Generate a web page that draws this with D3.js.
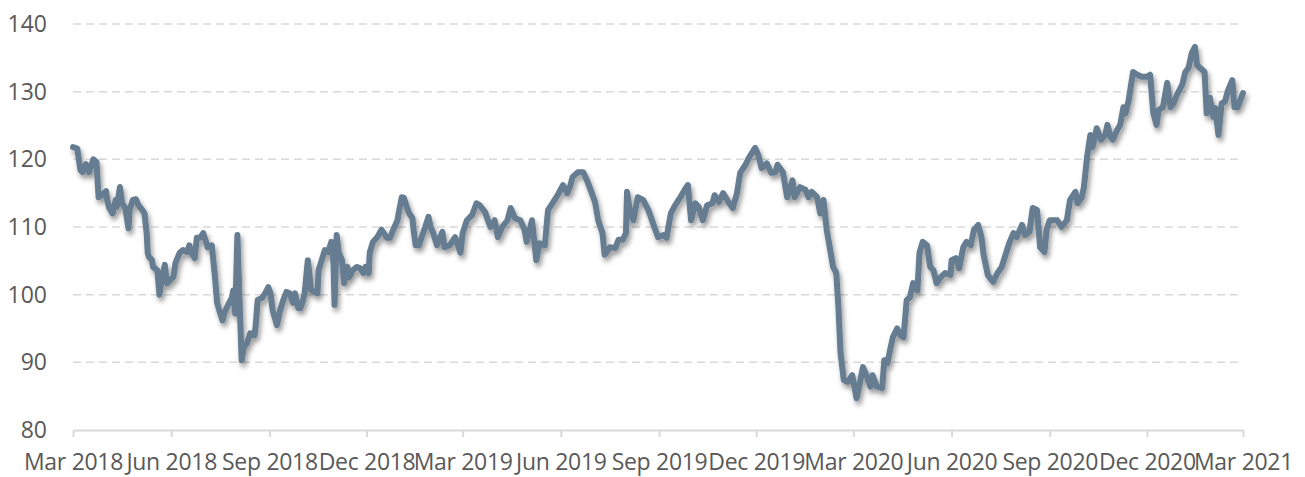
<!DOCTYPE html>
<html>
<head>
<meta charset="utf-8">
<script src="https://cdn.jsdelivr.net/npm/d3@7"></script>
<style>
body { margin: 0; background: #fff; }
text { font-family: "Open Sans", sans-serif; fill: #595959; }
</style>
</head>
<body>
<svg id="chart"></svg>
<script>
// series: days after 2018-03-01 and index level
const startDate = '2018-03-01';
const dayOffsets = [
  0,4,6,7,9,12,15,19,22,24,27,31,32,34,37,40,41,44,46,49,52,53,56,59,61,65,67,69,70,71,74,75,79,81,83,86,88,91,94,96,
  100,103,107,109,111,114,116,119,122,125,126,130,133,135,137,140,142,145,149,150,152,154,156,158,160,163,166,170,171,173,
  177,180,183,185,187,191,194,197,200,203,206,208,211,213,215,217,220,223,226,229,230,233,236,239,242,244,245,247,249,252,
  254,257,259,262,266,269,272,274,277,278,281,285,289,294,297,300,304,305,308,310,313,315,318,319,321,324,328,330,333,335,
  337,341,346,348,353,358,363,365,369,374,378,381,386,391,395,398,402,407,410,414,419,423,425,430,434,437,442,445,450,454,
  459,463,466,468,473,478,482,486,489,492,496,498,503,508,511,515,518,519,522,525,529,534,539,543,548,553,556,560,564,569,
  573,576,579,583,586,590,594,599,601,605,609,614,618,622,625,630,633,639,642,645,650,654,658,660,665,669,674,676,681,686,
  689,692,697,700,703,706,709,712,715,717,719,722,726,730,732,734,737,740,744,747,749,753,758,760,763,765,768,772,775,778,
  781,784,787,791,793,796,800,803,806,809,813,817,822,823,827,830,834,837,841,844,848,851,853,857,862,866,870,873,877,881,
  884,889,892,896,899,903,906,910,912,915,922,926,931,934,939,941,945,947,950,953,955,959,963,967,969,972,974,978,981,984,
  986,989,993,997,1001,1006,1009,1012,1015,1017,1021,1025,1028,1031,1034,1039,1042,1045,1048,1051,1053,1058,1060,1062,1065,1068,
  1070,1073,1076,1079,1082,1086,1088,1091,1096
];
const values = [
  121.8,121.6,119.4,118.4,118.1,119.3,118.1,120,119.6,114.4,114.7,115.3,114,112.8,112,114,113,115.9,113.5,112.8,109.8,112.5,114,114.1,113.3,112.5,112,109.1,106.2,105.6,105.1,104.1,103.6,100,102.2,104.4,101.7,102.2,102.6,104.7,
  106.2,106.6,106.3,107.3,106.2,105.4,108.4,108.4,109.1,107.6,107,107.3,102.6,98.8,97.7,96.2,97.4,98.4,99.6,100.6,97.2,108.8,99.2,90.3,92.3,92.8,94.3,94,95.2,99.2,
  99.5,100.2,101.1,100.2,97.7,95.5,97.7,99.2,100.4,100.2,98.8,100.2,98,98,98.9,100.2,105.1,100.7,100.4,100.2,103.6,105.1,106.6,106.3,107.8,104.7,98.5,108.8,106.2,105.1,
  101.7,104.1,102.6,103.6,104.1,103.9,103.2,104.1,103.2,106.2,107.8,108.5,109.6,108.4,108.4,109.6,111,112,114.4,114.3,112.8,112,111.3,109.6,107.3,107.3,109.1,110,111.5,110,
  109.3,107.3,109.3,107,107.3,108.5,106.2,109.1,111,111.8,113.5,113.2,112.2,110,111,108.5,110,111,112.8,111.3,111,109.6,107.8,111,105.1,107.6,107.3,112.5,113.7,114.7,
  116.2,115,116.2,117.4,118.1,118.1,116.7,115,113.7,111,109.1,105.9,107,106.9,108.1,108.1,109.1,115.2,112,111,114.4,114,112.5,110.7,108.5,108.8,108.4,112,113.2,114.4,
  115.5,116.2,111,113.5,113,111,113.2,113.5,114.7,113.7,115,113.7,112.8,115,118,119.2,120.2,121.7,120.6,118.7,119.4,118,118.1,119.2,118.1,114.4,116.9,114.4,115.9,115.5,
  114.4,115.2,114.4,112,114,109.6,106.9,104.1,103.2,98.2,91.4,87.4,87.1,88.1,86.4,84.7,86.9,89.3,87.8,86.4,88.1,86.4,86.2,90.3,89.9,91.5,93.7,95,94,93.7,
  99.2,99.6,101.7,100.6,106.2,107.8,107.3,104.1,103.6,101.7,102.6,103.2,102.9,105.1,105.4,103.9,107,107.8,107.3,109.6,110.3,108.5,105.9,102.9,101.9,103.2,104.1,105.6,107.6,109.1,
  108.5,110.3,108.8,109.3,112.8,112.5,107,106.3,109.6,111,111,110,111,114,115.2,113.5,114.4,115.9,120.4,123.6,121.8,124.6,122.9,123.6,125.1,123.3,122.9,124.3,125.1,127.7,
  126.8,128.8,132.9,132.5,132.2,132.2,132.5,126.8,125.1,127.3,127.7,131.3,127.7,128.3,129.5,131,132.9,133.5,135.7,136.6,133.9,133.2,132.9,126.8,129.1,126.3,
  127.6,123.6,128.3,128.5,130.2,131.7,127.7,127.7,129.8
];
const xTickDates = ['2018-03-01','2018-06-01','2018-09-01','2018-12-01','2019-03-01','2019-06-01','2019-09-01',
  '2019-12-01','2020-03-01','2020-06-01','2020-09-01','2020-12-01','2021-03-01'];
const yTicks = [80, 90, 100, 110, 120, 130, 140];

const width = 1305, height = 477;
const margin = {top: 24, right: 62, bottom: 47, left: 73};
const innerW = width - margin.left - margin.right;
const innerH = height - margin.top - margin.bottom;

const parse = d3.utcParse('%Y-%m-%d');
const t0 = parse(startDate);
const data = dayOffsets.map((d, i) => ({date: d3.utcDay.offset(t0, d), value: values[i]}));

const x = d3.scaleUtc()
  .domain([parse(xTickDates[0]), parse(xTickDates[xTickDates.length - 1])])
  .range([0, innerW]);

const y = d3.scaleLinear()
  .domain([80, 140])
  .range([innerH, 0]);

const svg = d3.select('#chart')
  .attr('width', width)
  .attr('height', height);

const defs = svg.append('defs');
const shadow = defs.append('filter')
  .attr('id', 'shadow')
  .attr('x', '-5%').attr('y', '-10%')
  .attr('width', '110%').attr('height', '130%');
shadow.append('feDropShadow')
  .attr('dx', 2).attr('dy', 4)
  .attr('stdDeviation', 2.5)
  .attr('flood-color', '#000')
  .attr('flood-opacity', 0.4);

const chart = svg.append('g')
  .attr('transform', `translate(${margin.left},${margin.top})`);

// dashed gridlines
chart.append('g')
  .selectAll('line')
  .data(yTicks.filter(d => d > 80))
  .enter().append('line')
  .attr('x1', 0)
  .attr('x2', innerW)
  .attr('y1', d => y(d))
  .attr('y2', d => y(d))
  .attr('stroke', '#d9d9d9')
  .attr('stroke-width', 1.5)
  .attr('stroke-dasharray', '8,5');

// y labels
const yAxis = chart.append('g')
  .call(d3.axisLeft(y).tickValues(yTicks).tickSize(0).tickPadding(26));
yAxis.select('.domain').remove();
yAxis.selectAll('text')
  .style('font-size', '23px')
  .style('fill', '#595959');

// x axis
const xAxis = chart.append('g')
  .attr('transform', `translate(0,${innerH})`)
  .call(d3.axisBottom(x)
    .tickValues(xTickDates.map(parse))
    .tickFormat(d3.utcFormat('%b %Y'))
    .tickSize(7)
    .tickSizeOuter(0)
    .tickPadding(17));
xAxis.select('.domain')
  .attr('stroke', '#d9d9d9')
  .attr('stroke-width', 2);
xAxis.selectAll('.tick line')
  .attr('stroke', '#d9d9d9')
  .attr('stroke-width', 2);
xAxis.selectAll('text')
  .style('font-size', '23px')
  .style('letter-spacing', '-0.3px')
  .style('fill', '#595959');

const line = d3.line()
  .x(d => x(d.date))
  .y(d => y(d.value));

chart.append('path')
  .datum(data)
  .attr('fill', 'none')
  .attr('stroke', '#667d91')
  .attr('stroke-width', 6)
  .attr('stroke-linejoin', 'round')
  .attr('stroke-linecap', 'round')
  .attr('filter', 'url(#shadow)')
  .attr('d', line);
</script>
</body>
</html>
